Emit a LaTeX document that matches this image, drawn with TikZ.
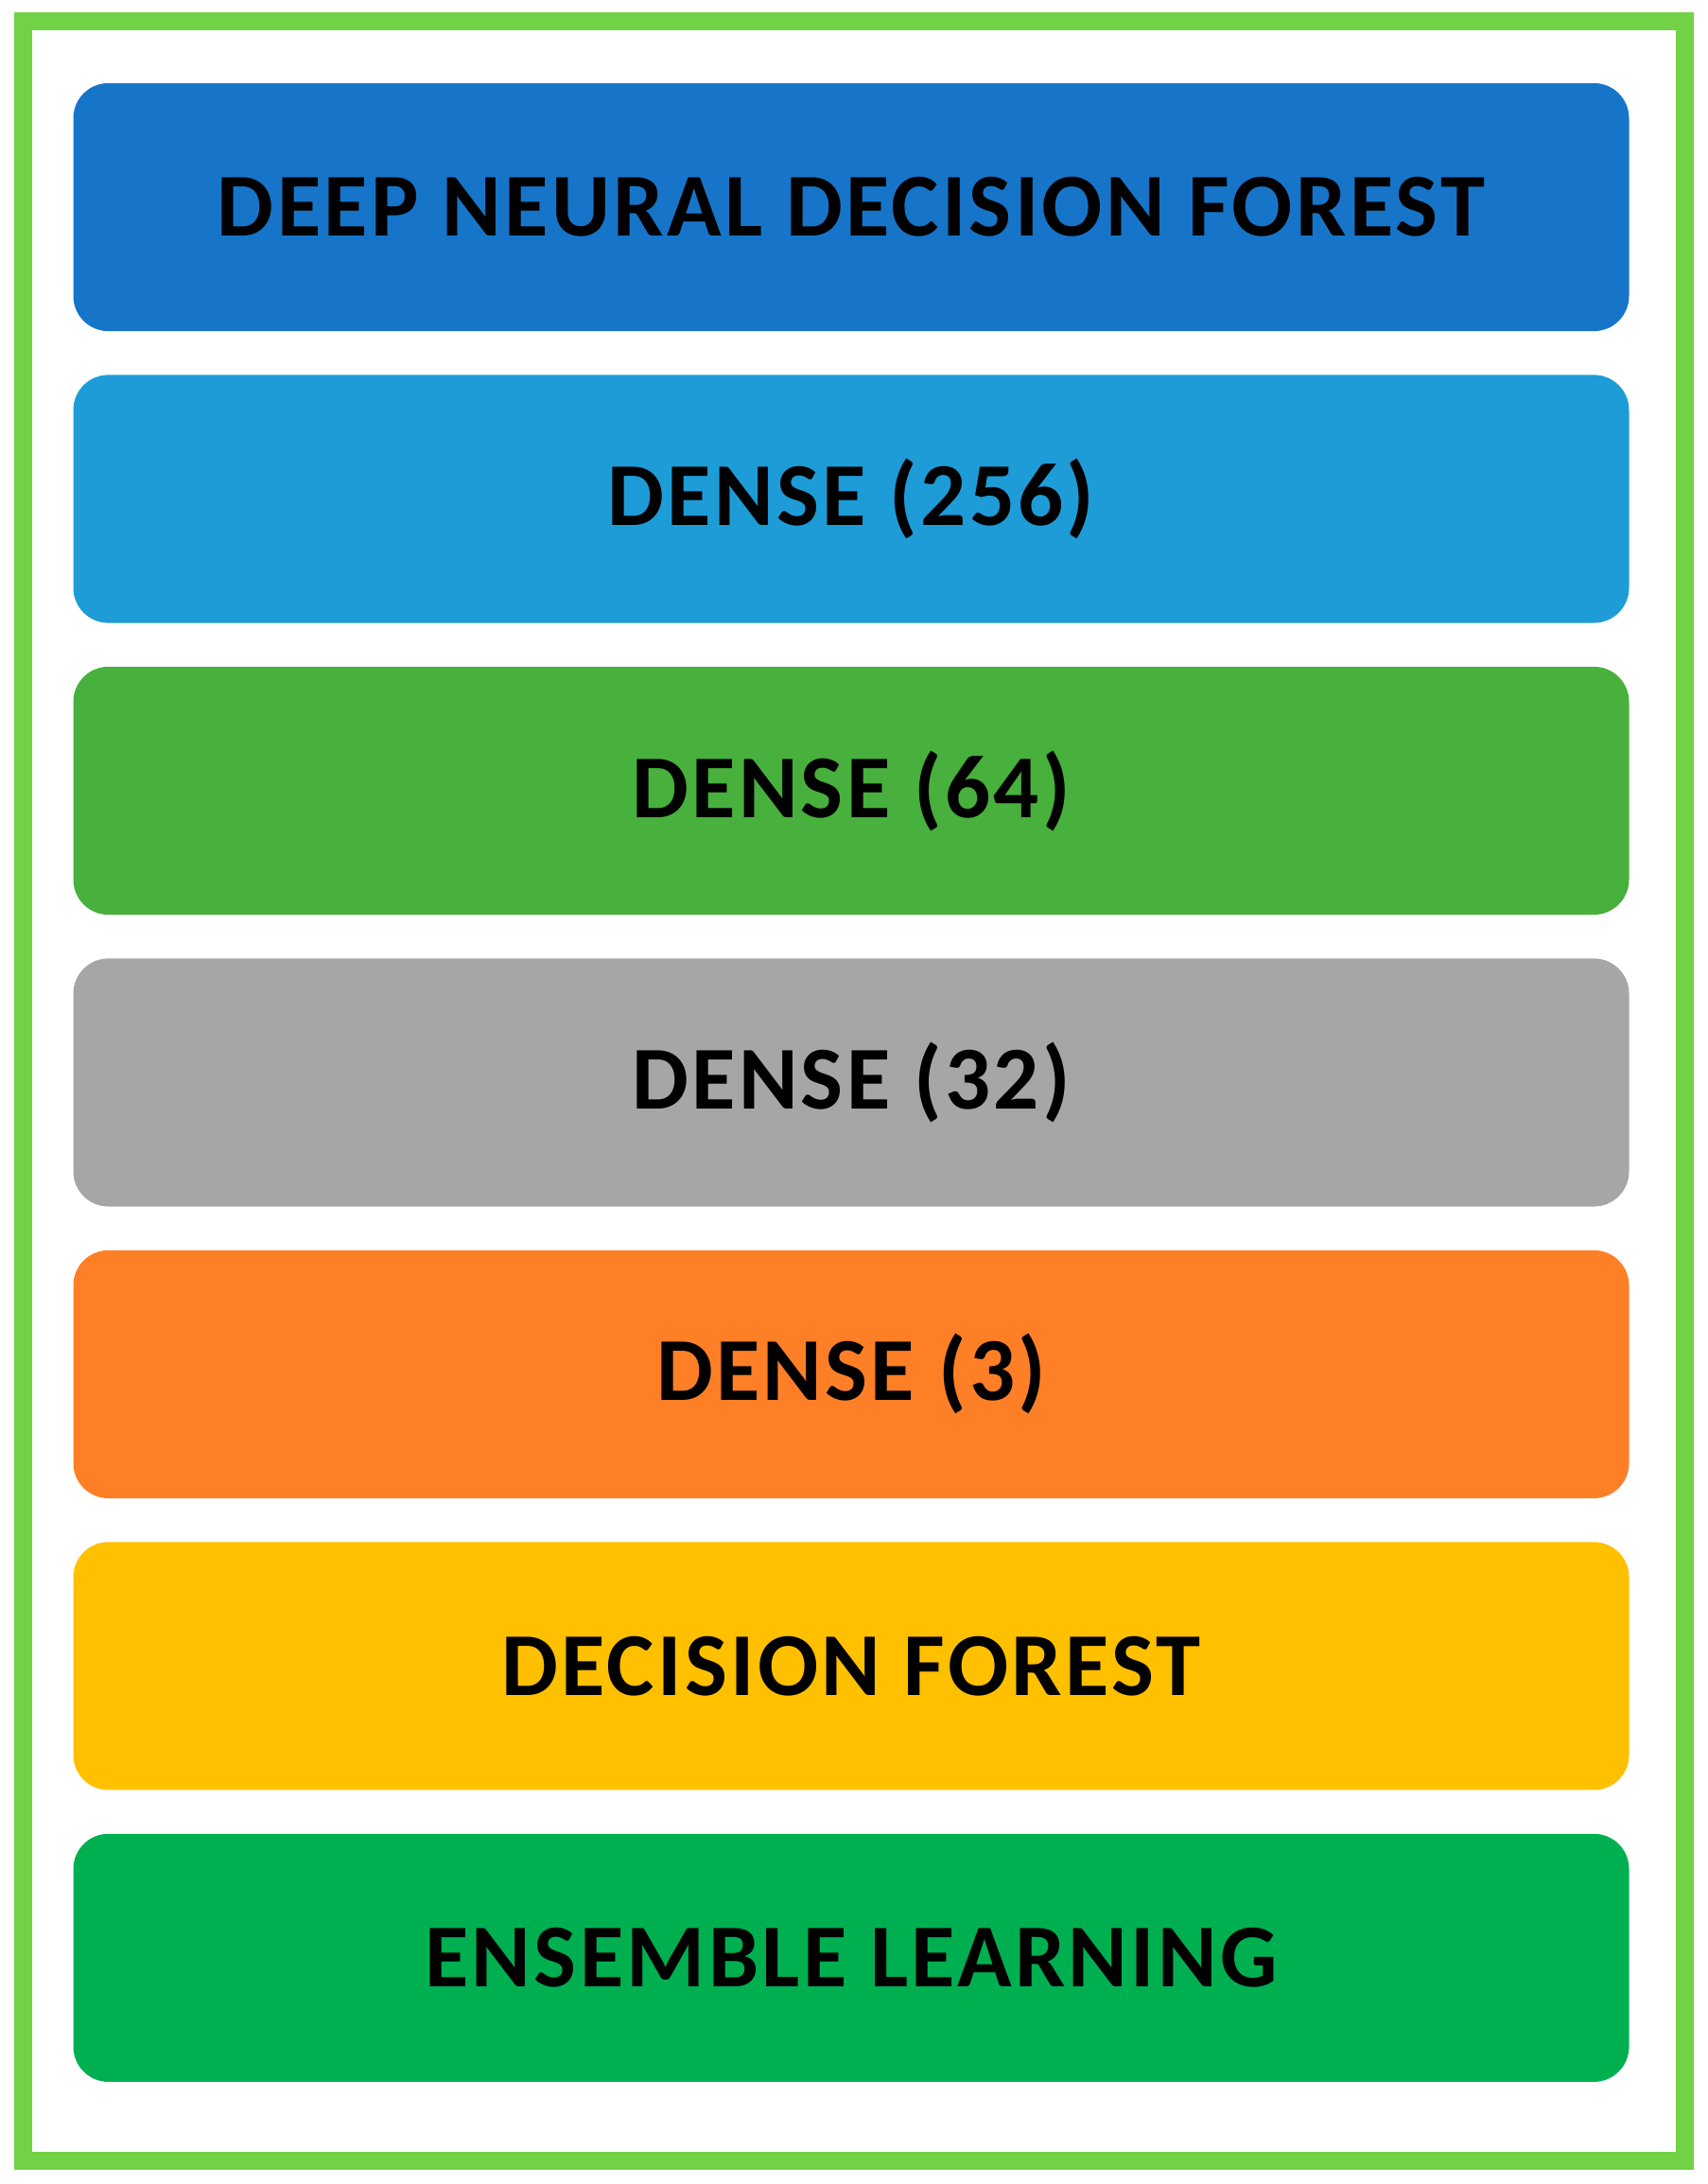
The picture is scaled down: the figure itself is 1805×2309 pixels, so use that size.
\documentclass[tikz,border=0pt]{standalone}
\usepackage{fontspec}
\setmainfont{Carlito}[LetterSpace=3.5]
\usetikzlibrary{positioning}
\definecolor{framegreen}{RGB}{112,210,68}
\definecolor{cdeep}{RGB}{23,117,201}
\definecolor{cdense}{RGB}{29,156,216}
\definecolor{cgreen}{RGB}{72,176,60}
\definecolor{cgray}{RGB}{166,166,166}
\definecolor{corange}{RGB}{255,127,39}
\definecolor{cgold}{RGB}{255,192,0}
\definecolor{censemble}{RGB}{0,176,80}
\tikzset{layer/.style={rectangle,rounded corners=0.37cm,minimum width=16.44cm,minimum height=2.62cm,inner sep=0pt,outer sep=0pt,font=\fontsize{27}{27}\selectfont\bfseries}}
\tikzset{frame/.style={draw=framegreen,line width=0.187cm}}

\begin{document}
\begin{tikzpicture}[x=0.01cm,y=-0.01cm,node distance=0.463cm]
            \useasboundingbox (0,0) rectangle (1805,2309);
            \draw[frame] (24.5,22.3) rectangle (1781.5,2284.5);
            \node[layer,fill=cdeep] (dndf) at (900,219) {DEEP NEURAL DECISION FOREST};
            \node[layer,fill=cdense,below=of dndf] (d256) {DENSE (256)};
            \node[layer,fill=cgreen,below=of d256] (d64) {DENSE (64)};
            \node[layer,fill=cgray,below=of d64] (d32) {DENSE (32)};
            \node[layer,fill=corange,below=of d32] (d3) {DENSE (3)};
            \node[layer,fill=cgold,below=of d3] (df) {DECISION FOREST};
            \node[layer,fill=censemble,below=of df] (el) {ENSEMBLE LEARNING};
          \end{tikzpicture}
\end{document}
